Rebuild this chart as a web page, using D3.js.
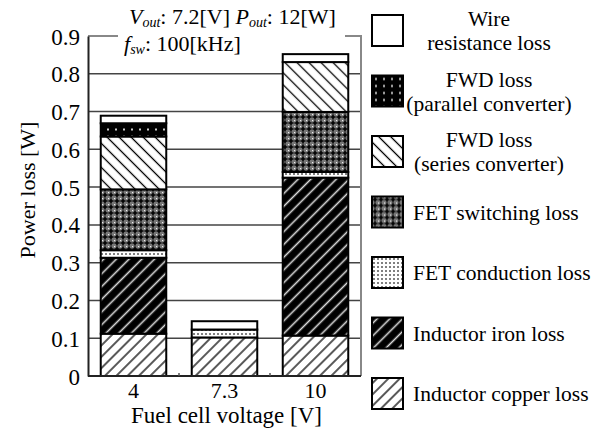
<!DOCTYPE html>
<html lang="en">
<head>
<meta charset="UTF-8">
<title>Power loss breakdown</title>
<script src="https://d3js.org/d3.v7.min.js"></script>
<style>
  body { margin: 0; background: #fff; }
  svg text { font-family: "Liberation Serif", "Times New Roman", serif; fill: #000; }
</style>
</head>
<body>
<svg width="602" height="432"></svg>
<script>
// data (bottom -> top of each stack)
const categories = ["4", "7.3", "10"];
const copperLoss   = [0.112, 0.102, 0.107];
const ironLoss     = [0.201, 0.000, 0.418];
const fetCondLoss  = [0.020, 0.021, 0.015];
const fetSwLoss    = [0.161, 0.000, 0.159];
const fwdSeries    = [0.140, 0.000, 0.132];
const fwdParallel  = [0.035, 0.000, 0.000];
const wireLoss     = [0.020, 0.022, 0.021];
const yTicks = [0, 0.1, 0.2, 0.3, 0.4, 0.5, 0.6, 0.7, 0.8, 0.9];

const series = [
  { key: "copper",   values: copperLoss,  label: ["Inductor copper loss"] },
  { key: "iron",     values: ironLoss,    label: ["Inductor iron loss"] },
  { key: "fetCond",  values: fetCondLoss, label: ["FET conduction loss"] },
  { key: "fetSw",    values: fetSwLoss,   label: ["FET switching loss"] },
  { key: "fwdSer",   values: fwdSeries,   label: ["FWD loss", "(series converter)"] },
  { key: "fwdPar",   values: fwdParallel, label: ["FWD loss", "(parallel converter)"] },
  { key: "wire",     values: wireLoss,    label: ["Wire", "resistance loss"] }
];

const svg = d3.select("svg");
const plotL = 88, plotR = 361, plotT = 36, plotB = 376;

// fill patterns
const defs = svg.append("defs");
function hatch(id, bg, fg, size, angle, sw) {
  const p = defs.append("pattern").attr("id", id)
    .attr("patternUnits", "userSpaceOnUse")
    .attr("width", size).attr("height", size)
    .attr("patternTransform", `rotate(${angle})`);
  p.append("rect").attr("width", size).attr("height", size).attr("fill", bg);
  p.append("line").attr("x1", size / 2).attr("x2", size / 2)
    .attr("y1", 0).attr("y2", size)
    .attr("stroke", fg).attr("stroke-width", sw);
}
hatch("copper", "#fff", "#000", 8, 45, 1.3);
hatch("iron", "#000", "#ddd", 9, 45, 1.6);
hatch("fwdSer", "#fff", "#000", 8.5, -45, 1.3);

const sw = defs.append("pattern").attr("id", "fetSw")
  .attr("patternUnits", "userSpaceOnUse").attr("width", 6).attr("height", 6);
sw.append("rect").attr("width", 6).attr("height", 6).attr("fill", "#777");
sw.append("path").attr("d", "M3,0.5V5.5M0.5,3H5.5").attr("stroke", "#000").attr("stroke-width", 1.6);
sw.append("rect").attr("x", 0).attr("y", 0).attr("width", 1.2).attr("height", 1.2).attr("fill", "#eee");

const fc = defs.append("pattern").attr("id", "fetCond")
  .attr("patternUnits", "userSpaceOnUse").attr("width", 4).attr("height", 4);
fc.append("rect").attr("width", 4).attr("height", 4).attr("fill", "#fff");
fc.append("circle").attr("cx", 2).attr("cy", 2).attr("r", 1).attr("fill", "#555");

const fp = defs.append("pattern").attr("id", "fwdPar")
  .attr("patternUnits", "userSpaceOnUse").attr("width", 8).attr("height", 7);
fp.append("rect").attr("width", 8).attr("height", 7).attr("fill", "#000");
fp.append("rect").attr("x", 3).attr("y", 2.5).attr("width", 2).attr("height", 2).attr("fill", "#ccc");

const fills = { copper: "url(#copper)", iron: "url(#iron)", fetCond: "url(#fetCond)",
  fetSw: "url(#fetSw)", fwdSer: "url(#fwdSer)", fwdPar: "url(#fwdPar)", wire: "#fff" };

// scales
const x = d3.scaleBand().domain(categories).range([plotL, plotR])
  .paddingInner(0.28).paddingOuter(0.14);
const y = d3.scaleLinear().domain([0, 0.9]).range([plotB, plotT]);

// grid lines
svg.append("g").selectAll("line").data(yTicks.slice(1, -1)).join("line")
  .attr("x1", plotL).attr("x2", plotR)
  .attr("y1", d => y(d)).attr("y2", d => y(d))
  .attr("stroke", "#444").attr("stroke-width", 1.5);

// frame: gray top (broken by the note) and right side
svg.append("path")
  .attr("d", `M${plotL},${y(0.9)}H118M345,${y(0.9)}H${plotR}V${plotB}`)
  .attr("fill", "none").attr("stroke", "#888").attr("stroke-width", 2);

// stacked bars
const rows = categories.map((c, i) => {
  const r = { cat: c };
  series.forEach(s => r[s.key] = s.values[i]);
  return r;
});
const stack = d3.stack().keys(series.map(s => s.key))(rows);
svg.append("g").selectAll("g").data(stack).join("g")
  .attr("fill", d => fills[d.key])
  .selectAll("rect").data(d => d.filter(v => v[1] - v[0] > 0)).join("rect")
  .attr("x", d => x(d.data.cat))
  .attr("width", x.bandwidth())
  .attr("y", d => y(d[1]))
  .attr("height", d => y(d[0]) - y(d[1]))
  .attr("stroke", "#000").attr("stroke-width", 2);

// axes
const yAxis = svg.append("g").attr("transform", `translate(${plotL},0)`)
  .call(d3.axisLeft(y).tickValues(yTicks).tickSize(0).tickPadding(8)
    .tickFormat(d => d === 0 ? "0" : d3.format(".1f")(d)));
yAxis.select(".domain").attr("stroke", "#222").attr("stroke-width", 2);
yAxis.selectAll("text").style("font-size", "23px").attr("dy", "0.35em")
  .style("font-family", "Liberation Serif");

const step = x.step();
const bounds = categories.slice(0, -1).map(c => x(c) + x.bandwidth() + step * 0.14);
const xAxis = svg.append("g").attr("transform", `translate(0,${plotB})`)
  .call(d3.axisBottom(x).tickSize(0).tickPadding(6));
xAxis.select(".domain").attr("d", `M${plotL},0H${plotR}`).attr("stroke", "#222").attr("stroke-width", 2);
xAxis.selectAll("text").style("font-size", "22px").style("font-family", "Liberation Serif");
xAxis.selectAll(".bound").data(bounds).join("line").attr("class", "bound")
  .attr("x1", d => d).attr("x2", d => d).attr("y1", 0).attr("y2", -3)
  .attr("stroke", "#555").attr("stroke-width", 1.5);

// axis titles
svg.append("text").attr("x", (plotL + plotR) / 2 + 2).attr("y", 423)
  .attr("text-anchor", "middle").style("font-size", "23px")
  .text("Fuel cell voltage [V]");
svg.append("text").attr("transform", "translate(35,190) rotate(-90)")
  .attr("text-anchor", "middle").style("font-size", "22px")
  .text("Power loss [W]");

// operating condition note
const note1 = svg.append("text").attr("x", 129).attr("y", 24).style("font-size", "22px");
note1.append("tspan").style("font-style", "italic").text("V");
note1.append("tspan").style("font-style", "italic").style("font-size", "14px").attr("dy", 3).text("out");
note1.append("tspan").attr("dy", -3).text(": 7.2[V] ");
note1.append("tspan").style("font-style", "italic").text("P");
note1.append("tspan").style("font-style", "italic").style("font-size", "14px").attr("dy", 3).text("out");
note1.append("tspan").attr("dy", -3).text(": 12[W]");
const note2 = svg.append("text").attr("x", 124).attr("y", 51).style("font-size", "22px");
note2.append("tspan").style("font-style", "italic").text("f");
note2.append("tspan").style("font-style", "italic").style("font-size", "14px").attr("dy", 3).text("sw");
note2.append("tspan").attr("dy", -3).text(": 100[kHz]");

// legend (top -> bottom)
const legendItems = series.slice().reverse();
const leg = svg.append("g").selectAll("g").data(legendItems).join("g")
  .attr("transform", (d, i) => `translate(372,${15 + i * 60.5})`);
leg.append("rect").attr("width", 31).attr("height", 31)
  .attr("fill", d => fills[d.key]).attr("stroke", "#000").attr("stroke-width", 2);
leg.each(function (d) {
  const g = d3.select(this);
  if (d.label.length === 1) {
    g.append("text").attr("x", 41).attr("y", 23).style("font-size", "21.5px").text(d.label[0]);
  } else {
    g.append("text").attr("x", 117).attr("y", 11).attr("text-anchor", "middle")
      .style("font-size", "21.5px").text(d.label[0]);
    g.append("text").attr("x", 117).attr("y", 35).attr("text-anchor", "middle")
      .style("font-size", "21.5px").text(d.label[1]);
  }
});
</script>
</body>
</html>
